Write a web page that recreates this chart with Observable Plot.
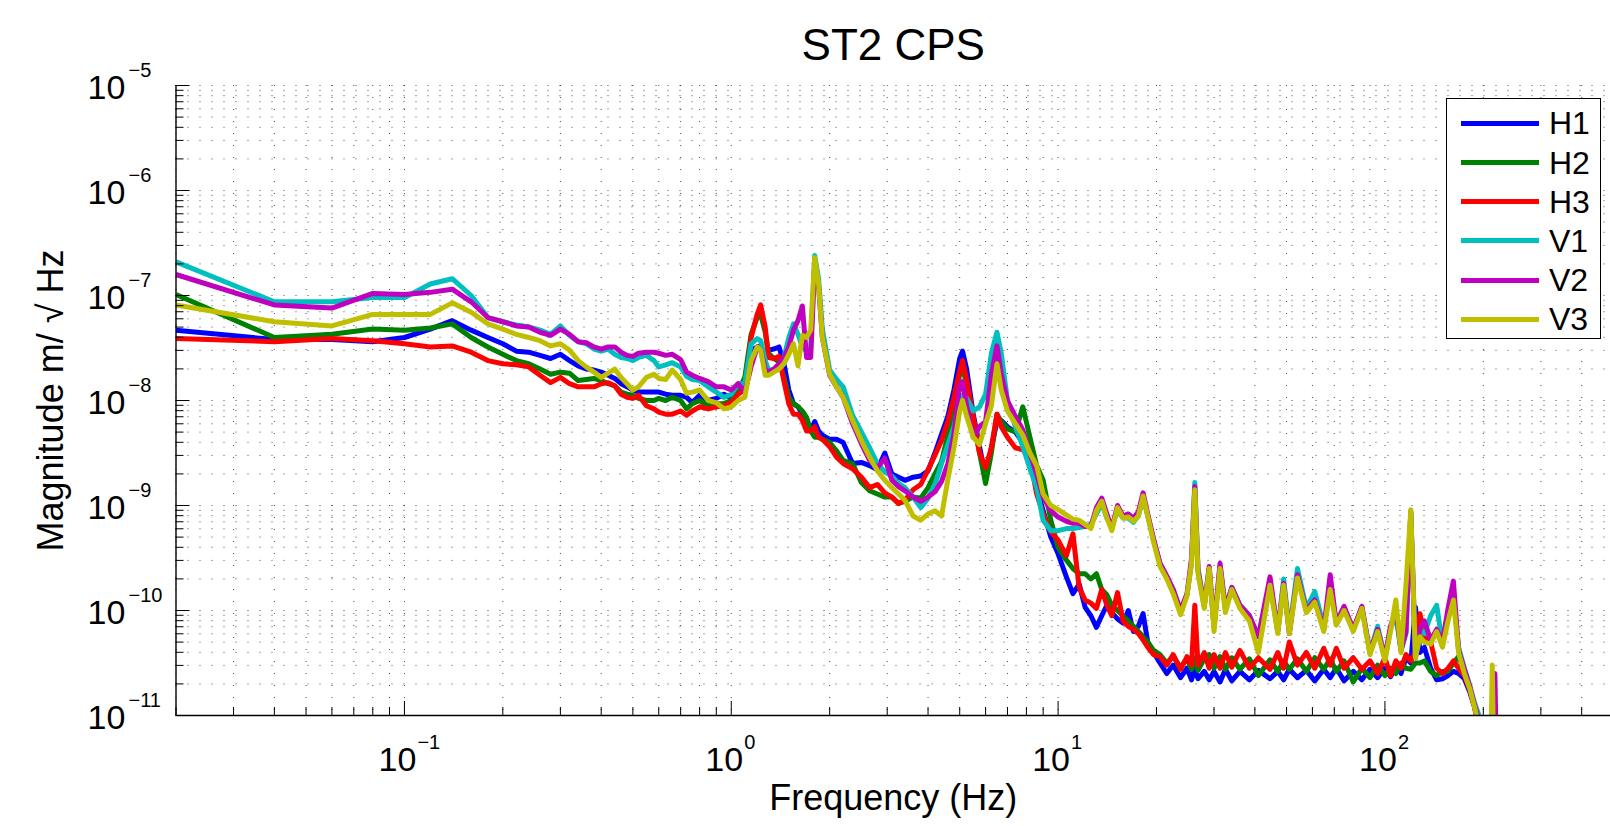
<!DOCTYPE html>
<html>
<head>
<meta charset="utf-8">
<script src="https://cdn.jsdelivr.net/npm/d3@7"></script>
<script src="https://cdn.jsdelivr.net/npm/@observablehq/plot@0.6"></script>
<style>
  html, body { margin: 0; padding: 0; background: #fff; overflow: hidden; }
  #wrap { position: relative; width: 1610px; height: 826px; font-family: "Liberation Sans", Arial, sans-serif; }
  #legend { position: absolute; left: 1446px; top: 98px; width: 155px; height: 241px; box-sizing: border-box;
            border: 1.5px solid #000; background: #fff; }
  .item { position: absolute; left: 0; height: 0; }
  .swatch { position: absolute; left: 14px; width: 78px; height: 5px; top: -2.5px; }
  .lab { position: absolute; left: 102px; top: -19px; font-size: 32px; line-height: 38px; color: #000; }
</style>
</head>
<body>
<div id="wrap"></div>
<script>
// ---- data (magnitudes stored as log10 of m/sqrt(Hz)) ----
const freq = [
  0.02,0.04,0.06,0.08,0.10,0.12,0.14,0.16,0.18,0.20,
  0.22,0.24,0.26,0.28,0.30,0.32,0.34,0.36,0.38,0.40,
  0.42,0.44,0.46,0.48,0.50,0.52,0.55,0.58,0.60,0.63,
  0.66,0.70,0.73,0.76,0.80,0.85,0.90,0.95,1.00,1.05,
  1.10,1.15,1.20,1.23,1.27,1.30,1.35,1.40,1.45,1.50,
  1.55,1.60,1.65,1.70,1.75,1.80,1.85,1.90,2.0,2.1,
  2.2,2.35,2.5,2.65,2.8,2.95,3.1,3.25,3.4,3.6,
  3.8,4.0,4.2,4.4,4.6,4.8,5.0,5.1,5.25,5.5,
  5.75,6.0,6.25,6.5,6.7,7.0,7.4,7.8,8.2,8.6,
  9.0,9.5,10,10.6,11.1,11.6,12.1,12.6,13.1,13.6,
  14.1,14.6,15.2,15.8,16.4,17.0,17.6,18.2,18.8,19.6,
  20.5,21.5,22.5,23.7,24.8,25.6,26.2,26.8,28,29,
  30,31.3,32.5,34,36,38.5,41,44.5,47,49,
  51,54,57.5,61,65,68,71,75,80,85,
  90,95,100,104,108,112,116,120,124,128,
  132,138,144,150,156,162,168,175,182,188,
  194,200,206,211,213,215,217,219
];
const H1 = [
  -7.33,-7.42,-7.42,-7.44,-7.40,-7.32,-7.24,-7.33,-7.40,-7.46,
  -7.53,-7.54,-7.57,-7.60,-7.56,-7.62,-7.67,-7.70,-7.71,-7.73,
  -7.76,-7.79,-7.84,-7.87,-7.90,-7.92,-7.92,-7.92,-7.92,-7.94,
  -7.95,-7.95,-7.97,-8.02,-7.95,-8.00,-7.98,-7.94,-7.98,-7.90,
  -7.84,-7.52,-7.49,-7.48,-7.59,-7.52,-7.51,-7.49,-7.65,-7.90,
  -8.03,-8.06,-8.13,-8.19,-8.29,-8.20,-8.29,-8.33,-8.37,-8.37,
  -8.40,-8.60,-8.59,-8.62,-8.66,-8.50,-8.70,-8.73,-8.76,-8.73,
  -8.72,-8.67,-8.50,-8.32,-8.15,-7.90,-7.60,-7.53,-7.70,-8.13,
  -8.44,-8.73,-8.45,-8.20,-8.19,-8.25,-8.30,-8.40,-8.55,-8.83,
  -9.05,-9.30,-9.46,-9.68,-9.84,-9.75,-9.97,-10.05,-10.16,-10.05,
  -9.95,-10.02,-10.08,-10.12,-10.00,-10.20,-10.15,-10.03,-10.30,-10.40,
  -10.50,-10.60,-10.52,-10.64,-10.55,-10.66,-10.56,-10.65,-10.58,-10.66,
  -10.58,-10.68,-10.56,-10.67,-10.58,-10.66,-10.57,-10.65,-10.58,-10.66,
  -10.56,-10.64,-10.57,-10.67,-10.56,-10.64,-10.55,-10.67,-10.58,-10.66,
  -10.56,-10.64,-10.55,-10.63,-10.54,-10.60,-10.45,-10.50,-9.97,-10.40,
  -10.35,-10.55,-10.66,-10.65,-10.62,-10.58,-10.60,-10.65,-10.78,-10.92,
  -11.12,-11.40,-11.6,-11.6,-11.6,-11.6,-11.6,-11.6
];
const H2 = [
  -6.99,-7.40,-7.37,-7.32,-7.33,-7.31,-7.27,-7.40,-7.49,-7.56,
  -7.62,-7.65,-7.70,-7.75,-7.73,-7.74,-7.81,-7.80,-7.79,-7.81,
  -7.84,-7.86,-7.92,-7.94,-7.95,-7.98,-8.00,-8.00,-7.98,-8.00,
  -7.97,-8.00,-8.08,-8.03,-8.00,-8.05,-8.03,-8.03,-8.00,-7.91,
  -7.78,-7.37,-7.21,-7.18,-7.35,-7.55,-7.60,-7.63,-7.78,-7.97,
  -8.03,-8.06,-8.10,-8.16,-8.29,-8.35,-8.35,-8.37,-8.40,-8.48,
  -8.57,-8.60,-8.78,-8.86,-8.89,-8.92,-8.92,-8.98,-8.96,-8.92,
  -8.93,-8.83,-8.70,-8.58,-8.33,-8.05,-7.75,-7.68,-7.85,-8.20,
  -8.50,-8.79,-8.50,-8.13,-8.20,-8.27,-8.30,-8.06,-8.35,-8.62,
  -8.76,-9.14,-9.40,-9.52,-9.60,-9.65,-9.65,-9.70,-9.65,-9.80,
  -9.85,-9.95,-10.00,-10.05,-10.10,-10.15,-10.20,-10.25,-10.30,-10.38,
  -10.42,-10.50,-10.44,-10.54,-10.46,-10.56,-10.45,-10.57,-10.46,-10.42,
  -10.55,-10.44,-10.56,-10.45,-10.56,-10.46,-10.62,-10.47,-10.58,-10.48,
  -10.56,-10.46,-10.58,-10.45,-10.56,-10.46,-10.58,-10.48,-10.68,-10.55,
  -10.64,-10.52,-10.62,-10.55,-10.60,-10.50,-10.55,-10.56,-10.50,-10.50,
  -10.48,-10.58,-10.62,-10.58,-10.58,-10.50,-10.44,-10.58,-10.74,-10.90,
  -11.10,-11.40,-11.6,-11.6,-11.6,-11.6,-11.6,-11.6
];
const H3 = [
  -7.41,-7.44,-7.41,-7.43,-7.46,-7.49,-7.48,-7.54,-7.62,-7.65,
  -7.66,-7.68,-7.76,-7.83,-7.78,-7.84,-7.87,-7.87,-7.87,-7.84,
  -7.83,-7.86,-7.94,-7.97,-7.98,-7.95,-8.05,-8.08,-8.11,-8.13,
  -8.13,-8.10,-8.14,-8.10,-8.06,-8.08,-8.06,-8.05,-8.02,-7.94,
  -7.90,-7.40,-7.18,-7.09,-7.30,-7.59,-7.60,-7.58,-7.82,-8.03,
  -8.13,-8.13,-8.19,-8.29,-8.29,-8.25,-8.35,-8.37,-8.44,-8.54,
  -8.60,-8.65,-8.73,-8.83,-8.80,-8.88,-8.92,-8.98,-8.95,-8.85,
  -8.80,-8.66,-8.52,-8.38,-8.20,-7.97,-7.72,-7.62,-7.80,-8.15,
  -8.50,-8.64,-8.45,-8.13,-8.25,-8.35,-8.45,-8.47,-8.55,-8.89,
  -9.08,-9.25,-9.33,-9.48,-9.27,-9.78,-9.90,-9.93,-9.98,-9.80,
  -9.95,-10.05,-9.83,-10.10,-10.15,-10.18,-10.22,-10.28,-10.35,-10.42,
  -10.44,-10.52,-10.42,-10.56,-10.44,-10.52,-9.95,-10.52,-10.40,-10.55,
  -10.42,-10.55,-10.40,-10.54,-10.38,-10.55,-10.45,-10.56,-10.40,-10.55,
  -10.30,-10.52,-10.40,-10.55,-10.36,-10.52,-10.36,-10.55,-10.45,-10.56,
  -10.48,-10.60,-10.45,-10.62,-10.48,-10.55,-10.42,-10.48,-10.40,-10.03,
  -10.25,-10.30,-10.55,-10.60,-10.55,-10.48,-10.55,-10.62,-10.76,-10.92,
  -11.12,-11.40,-11.6,-11.6,-11.6,-11.6,-11.6,-11.6
];
const V1 = [
  -6.68,-7.06,-7.06,-7.02,-7.02,-6.89,-6.84,-7.00,-7.21,-7.25,
  -7.28,-7.30,-7.33,-7.37,-7.29,-7.38,-7.44,-7.46,-7.51,-7.53,
  -7.51,-7.56,-7.59,-7.60,-7.62,-7.59,-7.57,-7.62,-7.68,-7.66,
  -7.64,-7.68,-7.77,-7.80,-7.81,-7.87,-7.92,-7.97,-7.94,-7.84,
  -7.84,-7.46,-7.41,-7.43,-7.62,-7.71,-7.71,-7.67,-7.59,-7.40,
  -7.27,-7.37,-7.49,-7.53,-7.50,-6.62,-6.84,-7.32,-7.71,-7.80,
  -7.87,-8.14,-8.30,-8.45,-8.60,-8.68,-8.72,-8.79,-8.83,-8.92,
  -9.02,-8.93,-8.80,-8.60,-8.42,-8.25,-8.00,-7.95,-7.98,-8.10,
  -8.06,-7.94,-7.55,-7.35,-7.55,-8.00,-8.25,-8.44,-8.65,-8.83,
  -9.14,-9.24,-9.24,-9.22,-9.22,-9.21,-9.20,-9.18,-9.08,-8.98,
  -9.12,-9.20,-9.05,-9.12,-9.12,-9.16,-9.10,-8.92,-9.10,-9.33,
  -9.55,-9.68,-9.80,-10.00,-9.85,-9.55,-8.78,-9.60,-9.95,-9.60,
  -10.15,-9.58,-9.98,-9.78,-9.95,-10.05,-10.25,-9.74,-10.20,-9.70,
  -10.20,-9.60,-9.98,-9.82,-10.15,-9.80,-10.10,-9.98,-10.18,-9.97,
  -10.40,-10.15,-10.45,-10.17,-10.05,-10.38,-10.22,-9.06,-10.45,-10.20,
  -10.22,-10.05,-9.95,-10.32,-10.05,-9.85,-10.35,-10.55,-10.72,-10.88,
  -11.00,-11.30,-11.6,-11.6,-11.6,-11.6,-11.6,-11.6
];
const V2 = [
  -6.80,-7.09,-7.12,-6.98,-6.99,-6.97,-6.94,-7.06,-7.21,-7.25,
  -7.29,-7.30,-7.35,-7.38,-7.32,-7.37,-7.44,-7.45,-7.49,-7.51,
  -7.49,-7.49,-7.54,-7.57,-7.58,-7.55,-7.54,-7.54,-7.55,-7.57,
  -7.56,-7.61,-7.73,-7.76,-7.79,-7.82,-7.87,-7.87,-7.90,-7.84,
  -7.92,-7.68,-7.49,-7.52,-7.70,-7.73,-7.70,-7.65,-7.59,-7.49,
  -7.33,-7.24,-7.10,-7.59,-7.59,-6.70,-6.92,-7.40,-7.76,-7.87,
  -7.97,-8.22,-8.41,-8.57,-8.64,-8.55,-8.76,-8.82,-8.86,-8.92,
  -8.96,-8.92,-8.87,-8.77,-8.60,-8.32,-7.85,-7.82,-8.05,-8.35,
  -8.25,-8.20,-7.75,-7.48,-7.75,-8.00,-8.15,-8.28,-8.50,-8.70,
  -8.92,-9.05,-9.11,-9.15,-9.17,-9.17,-9.20,-9.20,-9.02,-8.93,
  -9.08,-9.22,-9.00,-9.10,-9.08,-9.12,-9.06,-8.88,-9.08,-9.32,
  -9.55,-9.67,-9.80,-10.00,-9.84,-9.50,-8.82,-9.62,-9.96,-9.58,
  -10.16,-9.55,-9.98,-9.78,-9.95,-10.05,-10.25,-9.68,-10.20,-9.74,
  -10.22,-9.66,-10.00,-9.90,-10.18,-9.66,-10.12,-9.96,-10.18,-9.96,
  -10.40,-10.18,-10.45,-10.15,-10.00,-10.38,-10.20,-9.06,-10.45,-10.17,
  -10.10,-10.28,-10.18,-10.30,-9.98,-9.72,-10.38,-10.56,-10.73,-10.90,
  -11.05,-11.35,-11.6,-11.6,-11.3,-11.2,-10.60,-11.3
];
const V3 = [
  -7.09,-7.25,-7.29,-7.18,-7.18,-7.18,-7.07,-7.16,-7.27,-7.32,
  -7.37,-7.40,-7.43,-7.48,-7.46,-7.52,-7.62,-7.68,-7.73,-7.78,
  -7.74,-7.70,-7.78,-7.84,-7.90,-7.87,-7.78,-7.75,-7.79,-7.80,
  -7.71,-7.80,-7.93,-7.92,-7.90,-8.00,-8.02,-8.08,-8.06,-8.00,
  -7.97,-7.62,-7.49,-7.52,-7.76,-7.76,-7.73,-7.70,-7.65,-7.56,
  -7.46,-7.67,-7.38,-7.40,-7.33,-6.64,-6.89,-7.40,-7.75,-7.87,
  -7.97,-8.19,-8.38,-8.54,-8.67,-8.76,-8.83,-8.89,-8.95,-9.10,
  -9.14,-9.08,-9.05,-9.10,-8.75,-8.45,-8.10,-8.00,-8.15,-8.35,
  -8.42,-8.22,-8.05,-7.65,-7.90,-8.10,-8.22,-8.33,-8.50,-8.62,
  -8.89,-9.00,-9.04,-9.09,-9.13,-9.14,-9.18,-9.22,-9.05,-8.96,
  -9.12,-9.24,-9.02,-9.12,-9.11,-9.15,-9.10,-8.91,-9.10,-9.35,
  -9.58,-9.70,-9.84,-10.04,-9.86,-9.55,-8.85,-9.65,-9.98,-9.60,
  -10.20,-9.60,-10.02,-9.80,-9.98,-10.10,-10.40,-9.76,-10.22,-9.76,
  -10.22,-9.69,-10.02,-9.92,-10.20,-9.80,-10.14,-10.00,-10.20,-9.98,
  -10.42,-10.20,-10.48,-10.20,-9.90,-10.40,-9.75,-9.04,-10.45,-10.25,
  -10.30,-10.32,-10.20,-10.35,-10.10,-9.90,-10.40,-10.60,-10.75,-10.92,
  -11.10,-11.40,-11.6,-11.3,-10.52,-11.3,-11.6,-11.6
];

const seriesNames = ["H1", "H2", "H3", "V1", "V2", "V3"];
const seriesColors = ["#0000ff", "#008000", "#ff0000", "#00bfbf", "#bf00bf", "#bfbf00"];
const seriesLog = [H1, H2, H3, V1, V2, V3];

const xMajor = [0.1, 1, 10, 100];
const xExp = ["\u22121", "0", "1", "2"];
const xMinor = [0.02,0.03,0.04,0.05,0.06,0.07,0.08,0.09,
                0.2,0.3,0.4,0.5,0.6,0.7,0.8,0.9,
                2,3,4,5,6,7,8,9,
                20,30,40,50,60,70,80,90,
                200,300,400];
const yMajor = [1e-11, 1e-10, 1e-9, 1e-8, 1e-7, 1e-6, 1e-5];
const yExp = ["\u221211", "\u221210", "\u22129", "\u22128", "\u22127", "\u22126", "\u22125"];
const yMinor = [];
for (let e = -11; e < -5; e++) for (let m = 2; m <= 9; m++) yMinor.push(+(m + "e" + e));

const titleText = "ST2 CPS";
const xLabel = "Frequency (Hz)";
const yLabel = "Magnitude m/ \u221A Hz";

// ---- table ----
const rows = [];
seriesNames.forEach((s, k) => {
  if (seriesLog[k].length !== freq.length) console.error("length mismatch", s, seriesLog[k].length, freq.length);
  freq.forEach((f, i) => rows.push({f, v: 10 ** seriesLog[k][i], s}));
});

const font = "Liberation Sans, Arial, Helvetica, sans-serif";
const gridStyle = {stroke: "#000", strokeOpacity: 0.7, strokeWidth: 1, strokeDasharray: "1,11"};

const chart = Plot.plot({
  width: 1610,
  height: 826,
  marginLeft: 175.5,
  marginRight: 0,
  marginTop: 85,
  marginBottom: 111,
  style: {fontFamily: font, background: "#fff", color: "#000", overflow: "visible"},
  x: {type: "log", domain: [0.02, 490], axis: null},
  y: {type: "log", domain: [1e-11, 1e-5], axis: null},
  color: {domain: seriesNames, range: seriesColors},
  marks: [
    Plot.gridX([...xMinor, ...xMajor], gridStyle),
    Plot.gridY([...yMinor, ...yMajor], gridStyle),
    Plot.line(rows, {x: "f", y: "v", z: "s", stroke: "s", strokeWidth: 5,
                     strokeLinejoin: "round", strokeLinecap: "butt", clip: true}),
    Plot.axisX(xMajor, {tickSize: -14, fill: "none", stroke: "#000"}),
    Plot.axisX(xMinor, {tickSize: -8, fill: "none", stroke: "#000"}),
    Plot.axisY(yMajor, {tickSize: -14, fill: "none", stroke: "#000"}),
    Plot.axisY(yMinor, {tickSize: -8, fill: "none", stroke: "#000"}),
    Plot.ruleX([0.02], {stroke: "#000", strokeWidth: 1.4}),
    Plot.ruleY([1e-11], {stroke: "#000", strokeWidth: 1.4}),
    // tick labels
    Plot.text(yMajor, {y: d => d, text: () => "10", frameAnchor: "left", textAnchor: "start", lineAnchor: "middle",
                       dx: -88.5, dy: 2.5, fontSize: 34, fill: "#000"}),
    Plot.text(yMajor, {y: d => d, text: (d, i) => yExp[i], frameAnchor: "left", textAnchor: "start", lineAnchor: "middle",
                       dx: -47.5, dy: -14.5, fontSize: 20, fill: "#000"}),
    Plot.text(xMajor, {x: d => d, text: () => "10", frameAnchor: "bottom", textAnchor: "middle", lineAnchor: "middle",
                       dx: -7, dy: 45, fontSize: 34, fill: "#000"}),
    Plot.text(xMajor, {x: d => d, text: (d, i) => xExp[i], frameAnchor: "bottom", textAnchor: "start", lineAnchor: "middle",
                       dx: 13, dy: 27, fontSize: 20, fill: "#000"}),
    // axis titles and title
    Plot.text([xLabel], {text: d => d, frameAnchor: "bottom", textAnchor: "middle", lineAnchor: "middle",
                         dy: 83, fontSize: 36, fill: "#000"}),
    Plot.text([yLabel], {text: d => d, frameAnchor: "left", textAnchor: "middle", lineAnchor: "middle",
                         rotate: -90, dx: -125, fontSize: 36, fill: "#000"}),
    Plot.text([titleText], {text: d => d, frameAnchor: "top", textAnchor: "middle", lineAnchor: "middle",
                            dy: -40, fontSize: 44, fill: "#000"})
  ]
});

const wrap = document.getElementById("wrap");
wrap.appendChild(chart);

// ---- legend ----
const legend = d3.select(wrap).append("div").attr("id", "legend");
seriesNames.forEach((s, k) => {
  const item = legend.append("div").attr("class", "item").style("top", (24.3 + k * 39.2) + "px");
  item.append("div").attr("class", "swatch").style("background", seriesColors[k]);
  item.append("div").attr("class", "lab").text(s);
});
</script>
</body>
</html>
